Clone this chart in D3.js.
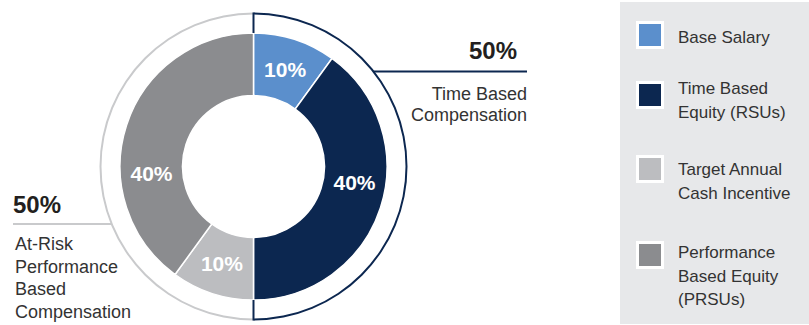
<!DOCTYPE html>
<html>
<head>
<meta charset="utf-8">
<script src="https://cdn.jsdelivr.net/npm/d3@7"></script>
<style>
  body { margin: 0; background: #fff; }
  text { font-family: "Liberation Sans", Arial, Helvetica, sans-serif; }
</style>
</head>
<body>
<div id="chart"></div>
<script>
// slices, clockwise from 12 o'clock
const categories = ["Base Salary", "Time Based Equity (RSUs)", "Target Annual Cash Incentive", "Performance Based Equity (PRSUs)"];
const shares = [10, 40, 10, 40];
const colors = ["#5b8fcc", "#0c2750", "#bcbdc0", "#8b8c8f"];
const legendLines = [["Base Salary"], ["Time Based", "Equity (RSUs)"], ["Target Annual", "Cash Incentive"], ["Performance", "Based Equity", "(PRSUs)"]];

// outer ring groups
const groupShares = [50, 50];
const groupLines = [["Time Based", "Compensation"], ["At-Risk", "Performance", "Based", "Compensation"]];
const groupColors = ["#0c2750", "#c9cacc"];

const W = 809, H = 325;
const cx = 253.5, cy = 166.5;
const rOuter = 133.5, rInner = 71, rRing = 153;

const svg = d3.select("#chart").append("svg")
  .attr("width", W).attr("height", H);

// legend panel
svg.append("rect")
  .attr("x", 620).attr("y", 2).attr("width", W - 620).attr("height", 322)
  .attr("fill", "#e7e8ea");

const g = svg.append("g").attr("transform", `translate(${cx},${cy})`);

const pie = d3.pie().sort(null).value(d => d);
const arc = d3.arc().innerRadius(rInner).outerRadius(rOuter);
const slices = pie(shares);

g.selectAll("path.slice")
  .data(slices)
  .join("path")
    .attr("class", "slice")
    .attr("d", arc)
    .attr("fill", (d, i) => colors[i])
    .attr("stroke", "#fff")
    .attr("stroke-width", 1.5);

// labels sit a bit off the centroid for the big slices
const labelShift = [0, -9, 0, -22].map(a => a * Math.PI / 180);
const rLabel = (rInner + rOuter) / 2;
g.selectAll("text.pct")
  .data(slices)
  .join("text")
    .attr("class", "pct")
    .attr("x", (d, i) => rLabel * Math.sin((d.startAngle + d.endAngle) / 2 + labelShift[i]))
    .attr("y", (d, i) => -rLabel * Math.cos((d.startAngle + d.endAngle) / 2 + labelShift[i]))
    .attr("dy", "0.36em")
    .attr("text-anchor", "middle")
    .attr("fill", "#fff")
    .style("font-size", "21px")
    .style("font-weight", "bold")
    .text(d => d.data + "%");

// outer ring halves
const ringArc = d3.arc().innerRadius(rRing - 1).outerRadius(rRing + 1);
const groups = pie(groupShares);
g.selectAll("path.ring")
  .data(groups)
  .join("path")
    .attr("class", "ring")
    .attr("d", ringArc)
    .attr("fill", (d, i) => groupColors[i]);

// end ticks of the dark half
[[-rRing - 1, -rOuter], [rOuter, rRing + 1]].forEach(([y1, y2]) => {
  g.append("line")
    .attr("x1", 0).attr("x2", 0).attr("y1", y1).attr("y2", y2)
    .attr("stroke", groupColors[0]).attr("stroke-width", 2);
});

// group callouts
const ringX = y => Math.sqrt(rRing * rRing - (y - cy) * (y - cy));

// right: time based
const ry = 71.5;
svg.append("line")
  .attr("x1", cx + ringX(ry)).attr("x2", 527)
  .attr("y1", ry).attr("y2", ry)
  .attr("stroke", groupColors[0]).attr("stroke-width", 2);
svg.append("text")
  .attr("x", 517).attr("y", 59)
  .attr("text-anchor", "end")
  .attr("fill", "#231f20")
  .style("font-size", "24px").style("font-weight", "bold")
  .text(groupShares[0] + "%");
svg.append("g").selectAll("text")
  .data(groupLines[0])
  .join("text")
    .attr("x", 527).attr("y", (d, i) => 100 + i * 21)
    .attr("text-anchor", "end")
    .attr("fill", "#333")
    .style("font-size", "18px")
    .text(d => d);

// left: at-risk
const ly = 224;
svg.append("line")
  .attr("x1", 13).attr("x2", cx - ringX(ly))
  .attr("y1", ly).attr("y2", ly)
  .attr("stroke", groupColors[1]).attr("stroke-width", 2);
svg.append("text")
  .attr("x", 13).attr("y", 213)
  .attr("fill", "#231f20")
  .style("font-size", "24px").style("font-weight", "bold")
  .text(groupShares[1] + "%");
svg.append("g").selectAll("text")
  .data(groupLines[1])
  .join("text")
    .attr("x", 15).attr("y", (d, i) => 250 + i * 22.6)
    .attr("fill", "#333")
    .style("font-size", "18px")
    .text(d => d);

// legend
const legendTop = [21, 81, 155, 241];
const legendBase = [43, 94, 175, 258];
const items = svg.append("g").selectAll("g")
  .data(categories)
  .join("g");
items.append("rect")
  .attr("x", 637.5).attr("y", (d, i) => legendTop[i] + 1.5)
  .attr("width", 25).attr("height", 25)
  .attr("fill", (d, i) => colors[i])
  .attr("stroke", "#fff").attr("stroke-width", 3);
items.each(function(d, i) {
  d3.select(this).selectAll("text")
    .data(legendLines[i])
    .join("text")
      .attr("x", 678).attr("y", (t, j) => legendBase[i] + j * 23.5)
      .attr("fill", "#333")
      .style("font-size", "17px")
      .text(t => t);
});
</script>
</body>
</html>
